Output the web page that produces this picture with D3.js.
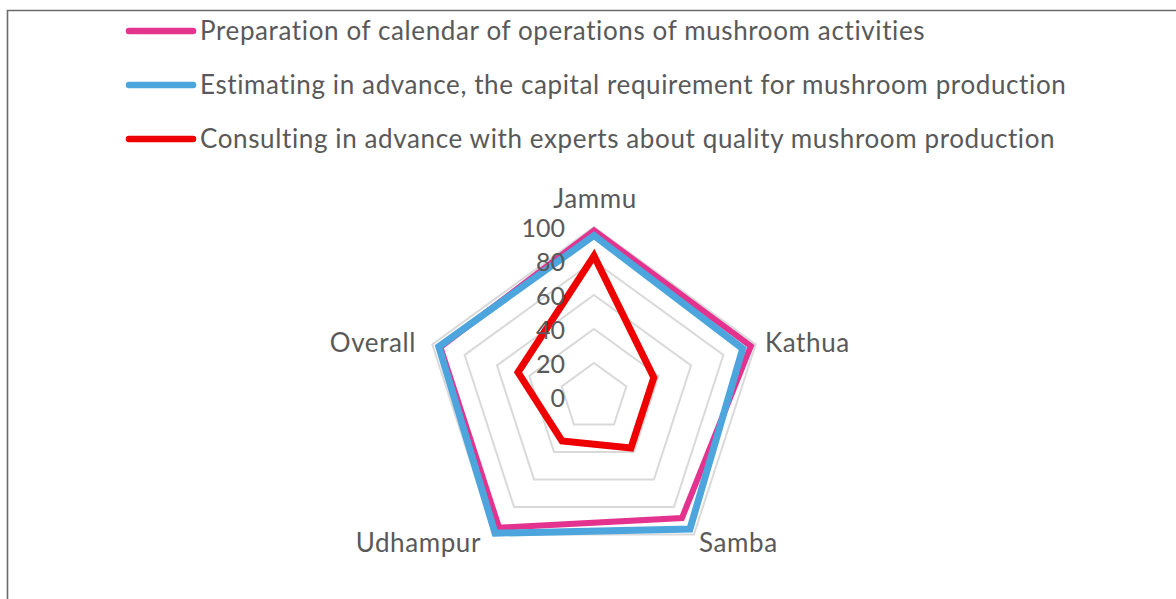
<!DOCTYPE html>
<html>
<head>
<meta charset="utf-8">
<script src="https://cdn.jsdelivr.net/npm/d3@7"></script>
<style>
  html, body { margin: 0; padding: 0; background: #fff; }
  svg { display: block; }
  text { font-family: Lato, "Open Sans", sans-serif; fill: #595959; }
</style>
</head>
<body>
<svg id="chart" width="1176" height="599"></svg>
<script>
// ---- data ----
const categories = ["Jammu", "Kathua", "Samba", "Udhampur", "Overall"];
const seriesNames = [
  "Preparation of calendar of operations of mushroom activities",
  "Estimating in advance, the capital requirement for mushroom production",
  "Consulting in advance with experts about quality mushroom production"
];
const preparationValues = [98, 97, 88, 95, 95];
const estimatingValues  = [95, 92, 96, 99, 96];
const consultingValues  = [83, 37, 37, 32, 47];
const tickValues = [0, 20, 40, 60, 80, 100];
const seriesColors = ["#E3338F", "#4CA5DC", "#EE0000"];

const seriesValues = [preparationValues, estimatingValues, consultingValues];

// ---- layout ----
const svg = d3.select("#chart");
const cx = 594, cy = 397, R = 170;

// frame
svg.append("path")
  .attr("d", "M7.5,599 L7.5,10.5 L1176,10.5")
  .attr("fill", "none")
  .attr("stroke", "#6b6b6b")
  .attr("stroke-width", 1.6);

const r = d3.scaleLinear().domain([0, 100]).range([0, R]);
const angle = d3.scalePoint().domain(categories.concat(["__end"])).range([0, 2 * Math.PI]);

const g = svg.append("g").attr("transform", `translate(${cx},${cy})`);

const radial = d3.lineRadial()
  .angle(d => angle(d.cat))
  .radius(d => r(d.v))
  .curve(d3.curveLinearClosed);

// grid
g.selectAll("path.grid")
  .data(tickValues.filter(t => t > 0))
  .join("path")
  .attr("class", "grid")
  .attr("d", t => radial(categories.map(c => ({cat: c, v: t}))))
  .attr("fill", "none")
  .attr("stroke", "#d9d9d9")
  .attr("stroke-width", 2);

// series
g.selectAll("path.series")
  .data(seriesValues)
  .join("path")
  .attr("class", "series")
  .attr("d", vals => radial(categories.map((c, i) => ({cat: c, v: vals[i]}))))
  .attr("fill", "none")
  .attr("stroke", (d, i) => seriesColors[i])
  .attr("stroke-width", (d, i) => i === 0 ? 6 : 7)
  .attr("stroke-linejoin", "miter");

// value axis labels
const yAxisScale = d3.scaleLinear().domain([0, 100]).range([cy, cy - R]);
const axisG = svg.append("g")
  .attr("transform", `translate(565,0)`)
  .call(d3.axisLeft(yAxisScale).tickValues(tickValues).tickSize(0).tickPadding(0));
axisG.select(".domain").remove();
axisG.selectAll("text")
  .attr("font-family", "Lato, 'Open Sans', sans-serif")
  .attr("font-size", 25)
  .attr("fill", "#595959")
  .attr("dy", "0.36em");

// category labels
const labelPos = {
  "Jammu":    {x: 595, y: 208, anchor: "middle"},
  "Kathua":   {x: 765, y: 352, anchor: "start"},
  "Samba":    {x: 699, y: 552, anchor: "start"},
  "Udhampur": {x: 481, y: 552, anchor: "end"},
  "Overall":  {x: 416, y: 352, anchor: "end"}
};
svg.selectAll("text.cat")
  .data(categories)
  .join("text")
  .attr("class", "cat")
  .attr("x", c => labelPos[c].x)
  .attr("y", c => labelPos[c].y)
  .attr("text-anchor", c => labelPos[c].anchor)
  .attr("font-size", 26)
  .attr("letter-spacing", 0.6)
  .text(c => c);

// legend
const legendY = d3.scalePoint().domain(seriesNames).range([31, 139]);
const leg = svg.selectAll("g.leg")
  .data(seriesNames)
  .join("g")
  .attr("class", "leg")
  .attr("transform", d => `translate(0,${legendY(d)})`);
leg.append("line")
  .attr("x1", 129).attr("x2", 193)
  .attr("stroke", (d, i) => seriesColors[i])
  .attr("stroke-width", 6.5)
  .attr("stroke-linecap", "round");
leg.append("text")
  .attr("x", 200)
  .attr("y", 0)
  .attr("dy", "0.36em")
  .attr("font-size", 26)
  .attr("letter-spacing", 0.62)
  .text(d => d);
</script>
</body>
</html>
